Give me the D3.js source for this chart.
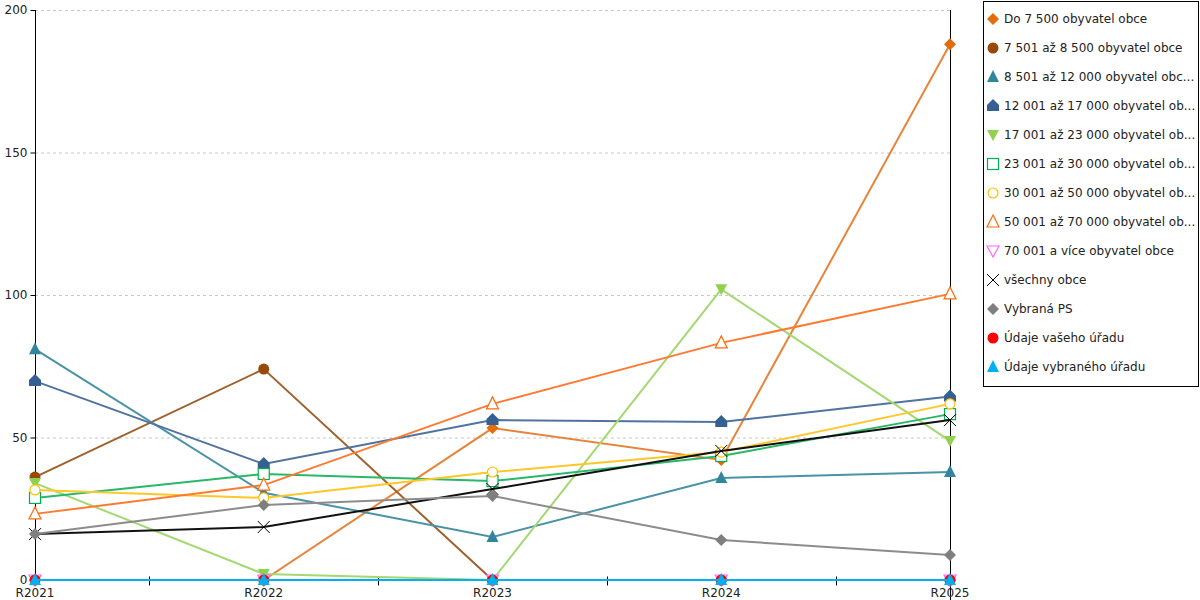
<!DOCTYPE html>
<html lang="cs">
  <head>
    <meta charset="utf-8" />
    <script src="https://cdn.jsdelivr.net/npm/d3@7/dist/d3.min.js"></script>
    <title>Chart</title>
    <style>
      body { margin: 0; background: #fff; }
      text { font-family: "DejaVu Sans", Verdana, sans-serif; font-size: 12px; fill: #222; }
    </style>
  </head>
  <body>
    <div id="container"></div>

    <script>
      const years = ["R2021", "R2022", "R2023", "R2024", "R2025"];
      const yTicks = [0, 50, 100, 150, 200];

      const names = [
        "Do 7 500 obyvatel obce",
        "7 501 až 8 500 obyvatel obce",
        "8 501 až 12 000 obyvatel obc...",
        "12 001 až 17 000 obyvatel ob...",
        "17 001 až 23 000 obyvatel ob...",
        "23 001 až 30 000 obyvatel ob...",
        "30 001 až 50 000 obyvatel ob...",
        "50 001 až 70 000 obyvatel ob...",
        "70 001 a více obyvatel obce",
        "všechny obce",
        "Vybraná PS",
        "Údaje vašeho úřadu",
        "Údaje vybraného úřadu"
      ];

      const do7500 = [0, 0, 53.3, 42.1, 188];
      const do8500 = [36.1, 74, 0, 0, 0];
      const do12000 = [81, 30.6, 15.1, 35.8, 37.9];
      const do17000 = [69.8, 40.7, 56.1, 55.4, 64.4];
      const do23000 = [34, 2.1, 0, 102, 48.8];
      const do30000 = [28.8, 37.2, 34.7, 43.5, 58.2];
      const do50000 = [31.6, 28.8, 37.9, 44.9, 61.8];
      const do70000 = [23.2, 33.3, 61.8, 83.2, 100.4];
      const nad70000 = [0, 0, 0, 0, 0];
      const vsechny = [16.1, 18.6, 31.9, 45.3, 56.1];
      const vybranaPS = [16.1, 26.3, 29.5, 14, 8.8];
      const vasUrad = [0, 0, 0, 0, 0];
      const vybranyUrad = [0, 0, 0, 0, 0];

      const values = [do7500, do8500, do12000, do17000, do23000, do30000, do50000,
                      do70000, nad70000, vsechny, vybranaPS, vasUrad, vybranyUrad];
      const colors = ["#e46c0a", "#984807", "#31859c", "#376092", "#92d050", "#00b050", "#ffc000",
                      "#ff6a10", "#ff66ff", "#000000", "#7f7f7f", "#ff0000", "#00b0f0"];
      const lineColors = ["#e8843a", "#a0602a", "#4a92a8", "#5073a0", "#a4d870", "#28b868", "#ffc72a",
                          "#ff7a30", "#ff66ff", "#111111", "#8c8c8c", "#ff0000", "#00b0f0"];
      const shapes = ["diamond", "circle", "triangle", "house", "triangleDown", "squareOpen", "circleOpen",
                      "triangleOpen", "triangleDownOpen", "cross", "diamond", "circle", "triangle"];

      const width = 1200, height = 600;
      const m = { left: 35, right: 950, top: 10, bottom: 580 };

      const svg = d3.select("#container").append("svg").attr("width", width).attr("height", height);

      const x = d3.scalePoint().domain(years).range([m.left, m.right]);
      const y = d3.scaleLinear().domain([0, 200]).range([m.bottom, m.top]);

      // grid
      svg.append("g").selectAll("line").data(yTicks.filter(d => d > 0)).join("line")
        .attr("x1", m.left).attr("x2", m.right)
        .attr("y1", d => y(d) + 0.5).attr("y2", d => y(d) + 0.5)
        .attr("stroke", "#c8c8c8").attr("stroke-dasharray", "3,3");

      // y axis
      const ya = svg.append("g").attr("transform", `translate(${m.left + 0.5},0)`)
        .call(d3.axisLeft(y).tickValues(yTicks).tickSize(5).tickPadding(3));
      ya.select(".domain").attr("stroke", "#000").attr("d", `M0,${m.top}V${m.bottom}`);
      ya.selectAll(".tick line").attr("stroke", "#000");
      ya.selectAll(".tick text").attr("font-size", 12).attr("font-family", "DejaVu Sans, Verdana, sans-serif").attr("fill", "#222");

      // right border line
      svg.append("line").attr("x1", m.right + 0.5).attr("x2", m.right + 0.5)
        .attr("y1", m.top).attr("y2", height).attr("stroke", "#000");

      // x axis
      const xa = svg.append("g").attr("transform", `translate(0,${m.bottom + 0.5})`);
      xa.append("line").attr("x1", m.left).attr("x2", m.right).attr("stroke", "#000");
      const mids = d3.pairs(years).map(([a, b]) => (x(a) + x(b)) / 2);
      xa.selectAll(".mt").data(mids).join("line")
        .attr("x1", d => Math.round(d) + 0.5).attr("x2", d => Math.round(d) + 0.5)
        .attr("y1", -4).attr("y2", 5).attr("stroke", "#000");
      xa.selectAll("text").data(years).join("text")
        .attr("x", d => x(d)).attr("y", 16).attr("text-anchor", "middle").text(d => d);

      function marker(g, shape, color) {
        const s = 6;
        const filled = !/Open/.test(shape);
        let el;
        switch (shape) {
          case "diamond":
            el = g.append("path").attr("d", `M0,${-s}L${s},0L0,${s}L${-s},0Z`); break;
          case "circle":
          case "circleOpen":
            el = g.append("circle").attr("r", shape === "circle" ? 5.5 : 5); break;
          case "triangle":
          case "triangleOpen":
            el = g.append("path").attr("d", `M0,${-s - 1}L${s},${s - 1}L${-s},${s - 1}Z`); break;
          case "triangleDown":
          case "triangleDownOpen":
            el = g.append("path").attr("d", `M0,${s}L${s},${-s + 1}L${-s},${-s + 1}Z`); break;
          case "house":
            el = g.append("path").attr("d", `M0,${-s - 1}L${s},${-1}L${s},${s - 1}L${-s},${s - 1}L${-s},${-1}Z`); break;
          case "squareOpen":
            el = g.append("rect").attr("x", -5.5).attr("y", -5.5).attr("width", 11).attr("height", 11); break;
          case "cross":
            el = g.append("path").attr("d", `M-6,-6L6,6M6,-6L-6,6`); break;
        }
        if (shape === "cross") el.attr("fill", "none").attr("stroke", color).attr("stroke-width", 1);
        else if (filled) el.attr("fill", color);
        else el.attr("fill", "#fff").attr("stroke", color).attr("stroke-width", 1.2);
      }

      const line = d3.line().x((d, i) => x(years[i])).y(d => y(d));

      values.forEach((vals, k) => {
        const g = svg.append("g");
        g.append("path").datum(vals).attr("d", line)
          .attr("fill", "none").attr("stroke", lineColors[k]).attr("stroke-width", 2);
        vals.forEach((v, i) => {
          const mg = g.append("g").attr("transform", `translate(${x(years[i])},${y(v)})`);
          marker(mg, shapes[k], colors[k]);
        });
      });

      // legend
      const lg = svg.append("g");
      lg.append("rect").attr("x", 983.5).attr("y", 1.5).attr("width", 215).attr("height", 385)
        .attr("fill", "#fff").attr("stroke", "#000");
      names.forEach((n, k) => {
        const cy = 19 + k * 29;
        const mg = lg.append("g").attr("transform", `translate(993,${cy})`);
        marker(mg, shapes[k], colors[k]);
        lg.append("text").attr("x", 1004).attr("y", cy + 4).text(n);
      });
    </script>
  </body>
</html>
